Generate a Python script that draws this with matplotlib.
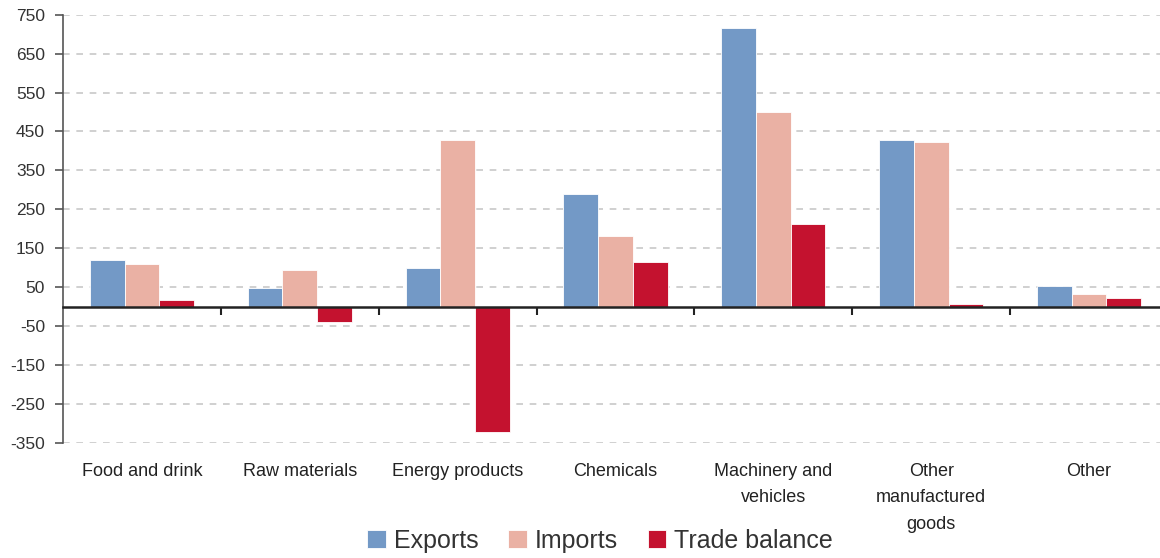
import numpy as np
import matplotlib
matplotlib.use('Agg')
import matplotlib.pyplot as plt
import matplotlib.transforms as mtransforms

plt.rcParams['font.family'] = ['Liberation Sans', 'DejaVu Sans']
plt.rcParams['axes.unicode_minus'] = False

# данные с графика
categories = ['Food and drink', 'Raw materials', 'Energy products', 'Chemicals',
              'Machinery and\nvehicles', 'Other\nmanufactured\ngoods', 'Other']
exports = [119, 48, 99, 289, 715, 428, 53]
imports = [109, 94, 428, 181, 499, 423, 32]
balance = [17, -39, -322, 114, 212, 7, 23]
series_names = ['Exports', 'Imports', 'Trade balance']
colors = ['#7399C6', '#EAB1A4', '#C4122F']
y_ticks = [-350, -250, -150, -50, 50, 150, 250, 350, 450, 550, 650, 750]

fig = plt.figure(figsize=(11.6, 5.58), dpi=100)
ax = fig.add_axes([63 / 1160, 1 - 442.7 / 558, 1105 / 1160, 428 / 558])

x = np.arange(len(categories))
width = 0.22
for i, (vals, name, c) in enumerate(zip([exports, imports, balance], series_names, colors)):
    ax.bar(x + (i - 1) * width, vals, width, color=c, label=name,
           edgecolor='white', linewidth=0.6, zorder=3)

ax.set_xlim(-0.5, len(categories) - 0.5)
ax.set_ylim(-350, 750)
ax.set_yticks(y_ticks)
ax.set_yticklabels([str(t) for t in y_ticks])
ax.yaxis.grid(True, color='#C8C8C8', linestyle=(0, (4, 4)), linewidth=1.2, zorder=0)

# нулевая линия как ось X, засечки между группами
for side in ['top', 'right']:
    ax.spines[side].set_visible(False)
ax.spines['bottom'].set_position(('data', 0))
ax.spines['bottom'].set_color('#222222')
ax.spines['bottom'].set_linewidth(1.8)
ax.spines['bottom'].set_zorder(4)
ax.spines['left'].set_color('#555555')
ax.spines['left'].set_linewidth(1.2)
ax.set_xticks(np.arange(len(categories)) + 0.5)
ax.set_xticklabels([])
ax.tick_params(axis='x', direction='out', length=6, width=1.5, color='#222222')
ax.tick_params(axis='y', direction='out', length=6, width=1.2, color='#555555',
               labelsize=12.5, labelcolor='#333333', pad=7)

# подписи категорий под графиком
trans = mtransforms.blended_transform_factory(ax.transData, ax.transAxes)
for xi, name in zip(x, categories):
    ax.text(xi, -0.047, name, transform=trans, ha='center', va='top',
            fontsize=13, color='#222222', linespacing=1.72)

ax.legend(loc='center', bbox_to_anchor=(600 / 1160, 1 - 541 / 558), bbox_transform=fig.transFigure,
          ncol=3, frameon=False, fontsize=18, handlelength=0.75, handleheight=0.75,
          handletextpad=0.3, columnspacing=1.2, labelcolor='#333333', borderpad=0.2)

fig.savefig('out.png', dpi=100)
